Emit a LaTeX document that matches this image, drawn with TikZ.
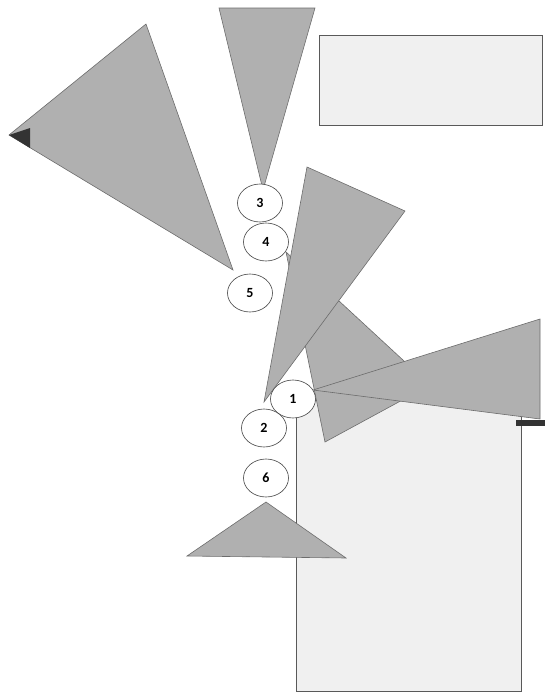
\documentclass[tikz,border=0pt]{standalone}
\usepackage{fontspec}
\setmainfont{Carlito}
\usetikzlibrary{shapes.geometric}
\begin{document}
\begin{tikzpicture}[x=1pt,y=-1pt,
  tri/.style={fill=gray!62,draw=gray!85!black,line width=0.6pt,line join=miter},
  panel/.style={fill=gray!12,draw=gray!70!black,line width=0.6pt},
  num/.style={ellipse,draw=black!75,fill=white,line width=0.6pt,minimum width=45pt,minimum height=38pt,inner sep=0pt,font=\bfseries\fontsize{14}{14}\selectfont},
  darkbit/.style={fill=black!80,draw=none}]
\useasboundingbox (0,0) rectangle (545,694);
% rectangles
\draw[panel] (319,35) rectangle (542,125);
\draw[panel] (296,400) rectangle (521,691);
% triangles
\draw[tri] (219,8) -- (315,8) -- (263,190) -- cycle;
\draw[tri] (146,24) -- (9,135) -- (233,270) -- cycle;
\fill[darkbit] (9,135) -- (30,128) -- (30,148) -- cycle;
\draw[tri] (286,252) -- (430,385) -- (325,442) -- cycle;
\draw[tri] (307,167) -- (405,211) -- (264,402) -- cycle;
\draw[tri] (313,390) -- (540,319) -- (540,419) -- cycle;
\fill[darkbit] (516,420) rectangle (545,426);
\draw[tri] (266,502) -- (346,558) -- (187,556) -- cycle;
% circles
\node[num] (n3) at (260,203) {3};
\node[num] (n4) at (266,242) {4};
\node[num] (n5) at (250,293) {5};
\node[num] (n1) at (293,399) {1};
\node[num] (n2) at (264,428) {2};
\node[num] (n6) at (266,478) {6};
\end{tikzpicture}
\end{document}
